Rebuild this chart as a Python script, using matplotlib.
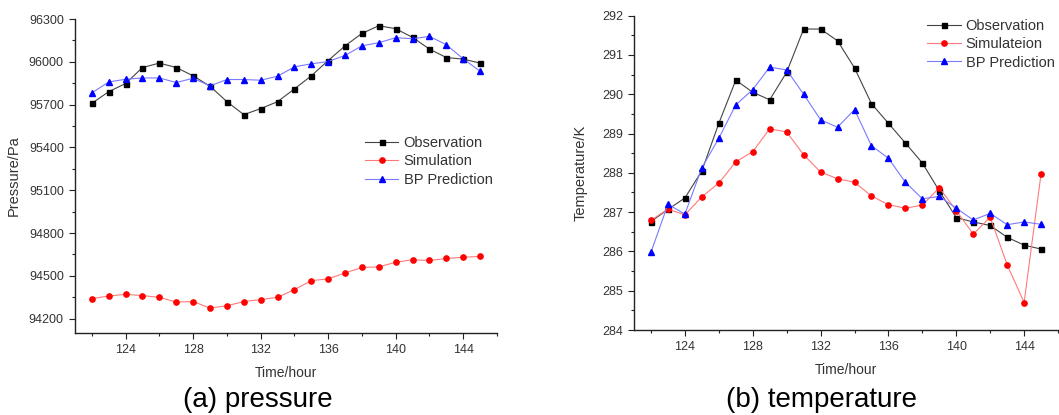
import numpy as np
import matplotlib.pyplot as plt
from matplotlib.ticker import MultipleLocator

plt.rcParams['font.family'] = ['Liberation Sans', 'DejaVu Sans']

hours = list(range(122, 146))

# (a) pressure, Pa
p_obs = [95709, 95791, 95848, 95960, 95991, 95960, 95902, 95829, 95721, 95630,
         95672, 95721, 95810, 95902, 96009, 96112, 96199, 96253, 96232, 96171,
         96089, 96030, 96019, 95991]
p_sim = [94341, 94359, 94371, 94362, 94350, 94317, 94320, 94275, 94291, 94320,
         94334, 94350, 94404, 94467, 94479, 94521, 94559, 94563, 94596, 94613,
         94608, 94622, 94631, 94636]
p_bp = [95782, 95859, 95878, 95887, 95887, 95855, 95885, 95831, 95876, 95876,
        95871, 95899, 95965, 95986, 96002, 96045, 96112, 96134, 96169, 96162,
        96178, 96120, 96021, 95934]

# (b) temperature, K
t_obs = [286.76, 287.07, 287.36, 288.05, 289.26, 290.36, 290.05, 289.86, 290.56, 291.66,
         291.66, 291.36, 290.67, 289.76, 289.26, 288.76, 288.25, 287.54, 286.86, 286.75,
         286.66, 286.36, 286.16, 286.06]
t_sim = [286.79, 287.08, 286.93, 287.39, 287.74, 288.28, 288.54, 289.12, 289.04, 288.46,
         288.02, 287.85, 287.76, 287.41, 287.19, 287.10, 287.18, 287.62, 287.04, 286.44,
         286.87, 285.66, 284.70, 287.98]
t_bp = [285.98, 287.20, 286.95, 288.13, 288.88, 289.73, 290.12, 290.69, 290.62, 290.00,
        289.35, 289.16, 289.61, 288.69, 288.37, 287.76, 287.34, 287.40, 287.10, 286.80,
        286.97, 286.68, 286.75, 286.69]

fig = plt.figure(figsize=(10.59, 4.15), dpi=100)
ax1 = fig.add_axes([0.0708, 0.1976, 0.3985, 0.7566])
ax2 = fig.add_axes([0.5987, 0.2048, 0.4004, 0.7574])

tick_col = '#333333'
leg_kw = dict(loc='upper left', frameon=False, fontsize=10.5, handlelength=2.3,
              handletextpad=0.35, labelspacing=0.3, borderpad=0, borderaxespad=0,
              labelcolor=tick_col)

def draw(ax, obs, sim, bp, sim_name):
    ax.plot(hours, obs, '-', color='#444444', lw=0.8, marker='s', ms=3.6,
            mfc='black', mec='black', label='Observation')
    ax.plot(hours, sim, '-', color='#ff7a7a', lw=0.8, marker='o', ms=3.8,
            mfc='red', mec='red', label=sim_name)
    ax.plot(hours, bp, '-', color='#7a7aff', lw=0.8, marker='^', ms=4.0,
            mfc='blue', mec='blue', label='BP Prediction')
    for s in ['top', 'right']:
        ax.spines[s].set_visible(False)
    for s in ['left', 'bottom']:
        ax.spines[s].set_linewidth(1.0)
        ax.spines[s].set_color('#222222')
    ax.set_xlim(121, 146)
    ax.xaxis.set_minor_locator(MultipleLocator(2))
    ax.set_xticks(range(124, 145, 4))
    ax.tick_params(which='major', direction='out', length=4.5, width=0.8,
                   colors='#222222', labelcolor=tick_col, labelsize=9)
    ax.tick_params(which='minor', direction='out', length=2.5, width=0.8, colors='#222222')
    ax.set_xlabel('Time/hour', fontsize=10, color=tick_col, labelpad=7)
    ax.patch.set_alpha(0)

draw(ax1, p_obs, p_sim, p_bp, 'Simulation')
ax1.set_ylim(94100, 96300)
ax1.yaxis.set_minor_locator(MultipleLocator(150))
ax1.set_yticks(range(94200, 96301, 300))
ax1.set_ylabel('Pressure/Pa', fontsize=10.5, color=tick_col, labelpad=6)
ax1.legend(bbox_to_anchor=(0.687, 0.627), **leg_kw)

draw(ax2, t_obs, t_sim, t_bp, 'Simulateion')
ax2.set_ylim(284, 292)
ax2.yaxis.set_major_locator(MultipleLocator(1))
ax2.yaxis.set_minor_locator(MultipleLocator(0.5))
ax2.set_ylabel('Temperature/K', fontsize=10.5, color=tick_col, labelpad=10)
ax2.legend(bbox_to_anchor=(0.691, 0.99), **leg_kw)

fig.text(258 / 1059, 0.035, '(a) pressure', ha='center', va='center', fontsize=20)
fig.text(822 / 1059, 0.035, '(b) temperature', ha='center', va='center', fontsize=20)

fig.savefig('out.png', dpi=100)
